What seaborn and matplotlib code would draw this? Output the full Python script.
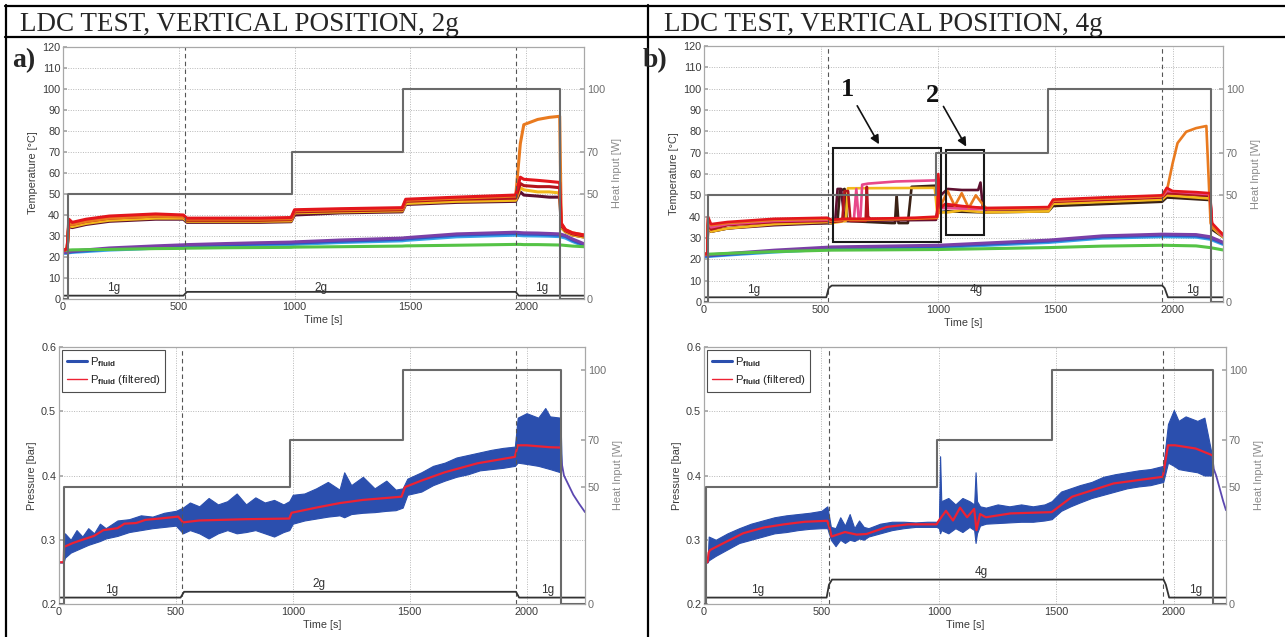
import matplotlib
matplotlib.use("Agg")
import matplotlib.pyplot as plt
from matplotlib.patches import Rectangle
from matplotlib.lines import Line2D
import seaborn as sns

# ------------------ panel a) 2g : temperatures ------------------ #
t_a = [0, 18, 25, 40, 100, 200, 300, 400, 520, 535, 700, 850, 985, 1000, 1200, 1465, 1480, 1700,
       1955, 1975, 1990, 2050, 2100, 2145, 2152, 2170, 2200, 2250]
red_a = [23, 24, 38, 36.5, 38, 39.5, 40, 40.5, 40, 38.5, 38.5, 38.5, 38.8, 42.5, 43, 43.5, 47.5, 48.5,
         49.5, 58, 57, 56.5, 56, 55.5, 36, 33, 31.5, 30.5]
orange_a = [23, 24, 36, 35.5, 37, 38.5, 39, 39.5, 39, 38, 38, 38, 38.2, 42, 42.5, 43, 47, 48,
            49, 74, 83, 85.5, 86.5, 87, 36, 33, 31.5, 30.5]
darkred_a = [23, 24, 36, 35.5, 37, 38.5, 39, 39.5, 39.5, 37.5, 37.5, 37.5, 37.8, 41.5, 42, 42.5, 46.5, 47.5,
             48, 55, 54, 53.5, 53.5, 53, 35, 32.5, 31, 30]
yellow_a = [23, 24, 35, 34.5, 36, 37.5, 38, 38.5, 38.5, 37, 37, 37, 37.2, 41, 41.5, 42, 45.5, 46.5,
            47, 53, 52, 51, 51, 50.5, 34, 32, 30.5, 29.5]
maroon_a = [23, 24, 34.5, 34, 35.5, 37, 37.5, 38, 38, 36.5, 36.5, 36.5, 36.8, 40, 41, 41.5, 45, 46,
            46.5, 51, 49.5, 49, 48.5, 48.5, 34, 32, 30.5, 29.5]
blue_a = [22, 22, 22.2, 22.5, 23, 23.8, 24.2, 24.7, 25.2, 25.3, 25.8, 26.2, 26.5, 26.6, 27.5, 28.4, 28.6, 30.4,
          31.2, 31, 30.9, 30.8, 30.6, 30.4, 30.2, 29.8, 28, 25.7]
purple_a = [22.3, 22.3, 22.5, 22.8, 23.4, 24.3, 24.8, 25.3, 25.8, 25.9, 26.4, 26.8, 27.1, 27.2, 28.1, 29, 29.2, 31,
            31.8, 31.6, 31.5, 31.4, 31.2, 31, 30.8, 30.2, 28.6, 26.3]
cyan_a = [21.8, 21.8, 22, 22.2, 22.6, 23.3, 23.7, 24.2, 24.6, 24.7, 25.2, 25.6, 25.9, 26, 26.9, 27.7, 27.9, 29.6,
          30.4, 30.2, 30.1, 30, 29.9, 29.7, 29.5, 29, 27.4, 25.2]
green_a = [23.2, 23.2, 23.3, 23.4, 23.5, 23.6, 23.8, 24, 24.1, 24.2, 24.4, 24.5, 24.6, 24.7, 24.9, 25.2, 25.3, 25.6,
           26, 26, 25.9, 25.9, 25.8, 25.7, 25.7, 25.5, 25.2, 24.9]

heat_t_a = [0, 20, 20, 990, 990, 1470, 1470, 2148, 2148, 2250]
heat_t_pa = [0, 21, 21, 988, 988, 1471, 1471, 2146, 2146, 2250]
heat_a = [0, 0, 50, 50, 70, 70, 100, 100, 0, 0]
g_t_a = [0, 520, 535, 1955, 1968, 2250]
g_temp_a = [1.6, 1.6, 3.4, 3.4, 1.6, 1.6]
g_pres_a = [0.21, 0.21, 0.219, 0.219, 0.21, 0.21]
dash_a = [527, 1956]
glabel_t_a = [220, 1116, 2066]
glabel_a = ['1g', '2g', '1g']

# ------------------ panel b) 4g : temperatures ------------------ #
t_red_b = [0, 14, 17, 30, 100, 300, 525, 545, 600, 700, 900, 995, 1000, 1010, 1030, 1100, 1200, 1470, 1490,
           1700, 1955, 1975, 2000, 2100, 2160, 2168, 2215]
T_red_b = [22.5, 22.5, 40, 36.5, 37.5, 39, 39.5, 38.5, 39, 39, 39.5, 40, 60, 44, 46, 45, 44, 44.5, 48,
           49, 50, 53.5, 52, 51.5, 51, 37, 31.5]
t_or_b = [0, 14, 17, 30, 100, 300, 525, 545, 600, 700, 900, 995, 1005, 1040, 1070, 1100, 1130, 1160, 1195,
          1210, 1470, 1490, 1700, 1955, 1979, 2000, 2021, 2058, 2100, 2144, 2162, 2170, 2215]
T_or_b = [22.5, 22.5, 39, 36, 37, 38.5, 39, 38, 38.5, 38.5, 39, 39.5, 44, 52, 45, 51, 44, 50, 45,
          43.5, 44, 47.5, 48.5, 49.5, 54, 65, 74.5, 79.8, 81.5, 82.5, 37, 35, 32]
t_ye_b = [0, 14, 17, 30, 100, 300, 525, 545, 605, 614, 985, 995, 1040, 1100, 1200, 1470, 1490, 1955, 1975,
          2160, 2168, 2215]
T_ye_b = [22.5, 22.5, 36, 33, 34.5, 36.5, 37.5, 37, 38, 53.3, 53.5, 42, 42, 43, 42, 42.5, 46, 48, 50,
          48.5, 35, 30.5]
t_pk_b = [0, 14, 17, 30, 100, 300, 525, 545, 640, 650, 660, 668, 675, 700, 820, 985, 998, 1010, 1040,
          1200, 1470, 1490, 1955, 1975, 2160, 2168, 2215]
T_pk_b = [22.5, 22.5, 38, 35, 36.5, 38, 38.5, 38, 39, 53, 39, 40, 55, 55.5, 56.5, 57, 58, 44, 44,
          43.5, 44, 47.5, 49.5, 52, 50.5, 36, 31]
t_br_b = [0, 14, 17, 30, 100, 300, 525, 545, 570, 580, 600, 610, 800, 815, 822, 830, 870, 886, 985,
          1000, 1040, 1200, 1470, 1490, 1955, 1975, 2160, 2168, 2215]
T_br_b = [22.5, 22.5, 36, 33, 34.5, 36.5, 37, 37, 38, 52, 53, 38, 37, 37, 50, 37, 37, 54, 54.5,
          42, 42.5, 42, 42.5, 45, 47, 49, 47.8, 34, 30.5]
t_ma_b = [0, 14, 17, 30, 100, 300, 525, 545, 560, 570, 585, 600, 990, 1010, 1040, 1100, 1170, 1180, 1190,
          1200, 1470, 1490, 1955, 1975, 2160, 2168, 2215]
T_ma_b = [22.5, 22.5, 35.5, 33, 34.5, 36, 37, 37, 38, 53, 53, 38, 38.5, 50, 53, 52.5, 52.5, 56, 44,
          43, 43.5, 46.5, 48.5, 50, 49, 35.5, 31]
t_dr_b = [0, 14, 17, 30, 100, 300, 525, 545, 590, 600, 615, 625, 690, 695, 700, 710, 990, 1000, 1040,
          1200, 1470, 1490, 1955, 1975, 2160, 2168, 2215]
T_dr_b = [22.5, 22.5, 37, 34, 36, 37.5, 38, 37.5, 38, 52, 52, 38, 38, 54, 40, 39, 39, 46, 45,
          44, 44, 47, 49, 51, 50, 36, 31]
t_cold_b = [0, 15, 100, 300, 545, 1000, 1470, 1700, 1955, 2100, 2160, 2215]
blue_b = [21.5, 21.6, 22.3, 23.8, 25.3, 26, 28.5, 30.5, 31.3, 31, 30, 27.5]
purple_b = [21.9, 22, 22.7, 24.3, 25.8, 26.6, 29, 31, 31.8, 31.6, 30.6, 28]
cyan_b = [21.2, 21.3, 22, 23.4, 24.8, 25.5, 27.9, 29.9, 30.6, 30.4, 29.4, 27]
green_b = [22.3, 22.4, 22.8, 23.6, 24.3, 24.6, 25.5, 26.2, 26.6, 26.3, 25.5, 24.4]

heat_t_b = [0, 16, 16, 990, 990, 1470, 1470, 2162, 2162, 2215]
heat_t_pb = [0, 9, 9, 993, 993, 1480, 1480, 2166, 2166, 2222]
heat_b = [0, 0, 50, 50, 70, 70, 100, 100, 0, 0]
g_t_b = [0, 522, 532, 545, 1956, 1966, 1980, 2222]
g_temp_b = [2.2, 2.2, 6.5, 7.7, 7.7, 6.5, 2.2, 2.2]
g_pres_b = [0.21, 0.21, 0.23, 0.238, 0.238, 0.23, 0.21, 0.21]
dash_b = [530, 1953]
glabel_t_b = [213, 1164, 2085]
glabel_b = ['1g', '4g', '1g']

# zones marked in panel b
zone_t = [550, 1034]
zone_w = [461, 163]
zone_T = [28, 31.4]
zone_h = [44.3, 39.9]
zone_tag = ['1', '2']
tag_xy = [(612, 99.4), (976, 96.8)]
arrow_from = [(648, 93.1), (1016, 92.8)]
arrow_to = [(753, 72.8), (1125, 71.7)]

# ------------------ pressures ------------------ #
pe_t_a = [0, 20, 25, 50, 75, 100, 125, 150, 175, 200, 250, 300, 350, 400, 450, 500, 530, 560, 600, 640,
          680, 720, 760, 800, 840, 880, 920, 960, 985, 1000, 1050, 1100, 1150, 1200, 1220, 1250, 1300, 1350,
          1400, 1440, 1470, 1490, 1550, 1600, 1650, 1700, 1750, 1800, 1850, 1900, 1950, 1962, 2000, 2050,
          2080, 2100, 2145, 2150]
up_a = [0.265, 0.265, 0.31, 0.30, 0.315, 0.305, 0.318, 0.31, 0.325, 0.318, 0.33, 0.332, 0.338, 0.336, 0.342,
        0.345, 0.35, 0.358, 0.352, 0.365, 0.355, 0.36, 0.372, 0.355, 0.366, 0.358, 0.362, 0.355, 0.36, 0.37,
        0.372, 0.38, 0.39, 0.378, 0.405, 0.385, 0.398, 0.38, 0.392, 0.378, 0.38, 0.395, 0.405, 0.415, 0.42,
        0.428, 0.432, 0.436, 0.44, 0.443, 0.445, 0.49, 0.497, 0.49, 0.505, 0.492, 0.49, 0.42]
lo_a = [0.265, 0.265, 0.272, 0.28, 0.284, 0.288, 0.292, 0.295, 0.298, 0.302, 0.306, 0.312, 0.315, 0.318, 0.32,
        0.322, 0.31, 0.315, 0.31, 0.302, 0.31, 0.315, 0.31, 0.312, 0.315, 0.31, 0.305, 0.312, 0.315, 0.325,
        0.33, 0.333, 0.336, 0.338, 0.335, 0.34, 0.342, 0.343, 0.345, 0.346, 0.35, 0.37, 0.375, 0.385, 0.392,
        0.398, 0.402, 0.408, 0.41, 0.412, 0.415, 0.42, 0.418, 0.415, 0.412, 0.41, 0.405, 0.41]
pf_t_a = [0, 20, 22, 60, 100, 150, 190, 250, 280, 330, 370, 430, 510, 530, 600, 800, 985, 995, 1100, 1200,
          1300, 1465, 1480, 1550, 1650, 1790, 1950, 1962, 2000, 2100, 2145]
pf_a = [0.265, 0.265, 0.289, 0.295, 0.300, 0.306, 0.315, 0.318, 0.325, 0.326, 0.331, 0.333, 0.336, 0.327,
        0.330, 0.332, 0.333, 0.342, 0.350, 0.357, 0.362, 0.367, 0.382, 0.392, 0.405, 0.419, 0.429, 0.447,
        0.447, 0.444, 0.4435]
pd_t_a = [2145, 2150, 2160, 2180, 2200, 2225, 2250]
pd_a = [0.45, 0.42, 0.40, 0.385, 0.37, 0.356, 0.343]

pe_t_b = [0, 15, 20, 50, 100, 150, 200, 250, 300, 350, 400, 450, 500, 525, 540, 560, 580, 600, 620, 640,
          660, 680, 700, 750, 800, 850, 900, 950, 990, 1000, 1005, 1010, 1040, 1070, 1100, 1130, 1150, 1156,
          1162, 1175, 1200, 1250, 1300, 1350, 1400, 1450, 1480, 1520, 1560, 1600, 1650, 1700, 1750, 1800,
          1850, 1900, 1955, 1975, 2000, 2020, 2050, 2100, 2130, 2163]
up_b = [0.265, 0.265, 0.305, 0.30, 0.31, 0.318, 0.325, 0.33, 0.335, 0.338, 0.34, 0.342, 0.345, 0.352, 0.32,
        0.318, 0.335, 0.322, 0.34, 0.318, 0.33, 0.32, 0.318, 0.325, 0.328, 0.328, 0.327, 0.328, 0.328, 0.33,
        0.43, 0.36, 0.365, 0.355, 0.365, 0.36, 0.355, 0.405, 0.36, 0.352, 0.35, 0.355, 0.352, 0.355, 0.352,
        0.355, 0.36, 0.375, 0.38, 0.385, 0.39, 0.398, 0.402, 0.405, 0.408, 0.41, 0.415, 0.48, 0.502, 0.485,
        0.492, 0.485, 0.49, 0.43]
lo_b = [0.265, 0.265, 0.268, 0.275, 0.285, 0.295, 0.30, 0.305, 0.31, 0.312, 0.315, 0.317, 0.318, 0.318, 0.30,
        0.29, 0.30, 0.295, 0.30, 0.298, 0.302, 0.30, 0.305, 0.31, 0.315, 0.318, 0.32, 0.32, 0.32, 0.318,
        0.31, 0.315, 0.31, 0.318, 0.312, 0.32, 0.315, 0.295, 0.31, 0.322, 0.325, 0.326, 0.327, 0.328, 0.328,
        0.33, 0.332, 0.345, 0.352, 0.358, 0.365, 0.37, 0.375, 0.38, 0.383, 0.385, 0.39, 0.42, 0.415, 0.41,
        0.408, 0.405, 0.40, 0.40]
pf_t_b = [0, 15, 20, 26, 79, 166, 254, 341, 429, 525, 535, 543, 600, 650, 692, 779, 867, 990, 1000, 1030,
          1060, 1090, 1120, 1150, 1160, 1175, 1200, 1305, 1480, 1567, 1743, 1953, 1975, 2005, 2093, 2163]
pf_b = [0.265, 0.265, 0.28, 0.284, 0.294, 0.31, 0.319, 0.324, 0.328, 0.3295, 0.318, 0.305, 0.312, 0.308,
        0.309, 0.320, 0.324, 0.324, 0.33, 0.345, 0.33, 0.35, 0.335, 0.348, 0.315, 0.34, 0.335, 0.341, 0.343,
        0.367, 0.3876, 0.398, 0.447, 0.447, 0.442, 0.4316]
pd_t_b = [2163, 2170, 2180, 2195, 2210, 2222]
pd_b = [0.43, 0.41, 0.40, 0.38, 0.36, 0.346]

# ------------------ colours ------------------ #
C = dict(red='#e3161c', orange='#e97a1f', yellow='#f2b81c', darkred='#b3141c', maroon='#5e1030',
         brown='#3a2115', pink='#e8488a', blue='#2f56c6', purple='#7b3fa6', cyan='#38a6e8',
         green='#55c346', heat='#6a6a6a', grav='#333333', pblue='#2b4fae', pred='#ee2233')

sns.set_theme(style="white")
plt.rcParams['font.family'] = ['Liberation Sans', 'DejaVu Sans']
plt.rcParams['mathtext.fontset'] = 'custom'
plt.rcParams['mathtext.rm'] = 'Liberation Sans'
plt.rcParams['mathtext.bf'] = 'Liberation Sans:bold'

W, H = 1285, 637
fig = plt.figure(figsize=(W / 100, H / 100), dpi=100)


def box(l, r, t, b):
    return [l / W, 1 - b / H, (r - l) / W, (b - t) / H]


def line(ax, x, y, color, lw=1.0, **kw):
    sns.lineplot(x=x, y=y, ax=ax, color=color, lw=lw, estimator=None, sort=False, legend=False, **kw)


def frame(ax, xmax, ylim, yticks, ylabel, hmax):
    ax.set_xlim(0, xmax)
    ax.set_ylim(*ylim)
    ax.set_xticks([0, 500, 1000, 1500, 2000])
    ax.set_yticks(yticks)
    ax.grid(True, linestyle=(0, (1, 1.5)), color='#b8b8b8', lw=0.7)
    for sp in ax.spines.values():
        sp.set_color('#a8a8a8')
        sp.set_linewidth(0.9)
    ax.tick_params(direction='in', length=3, color='#a8a8a8', labelsize=7.8, labelcolor='#3a3a3a', pad=2)
    ax.set_xlabel('Time [s]', fontsize=7.8, color='#3a3a3a', labelpad=2)
    ax.set_ylabel(ylabel, fontsize=7.8, color='#3a3a3a', labelpad=3)
    tw = ax.twinx()
    tw.set_ylim(0, hmax)
    tw.set_yticks([0, 50, 70, 100])
    for sp in tw.spines.values():
        sp.set_visible(False)
    tw.tick_params(direction='in', length=3, color='#a8a8a8', labelsize=7.8, labelcolor='#6e6e6e', pad=2)
    tw.set_ylabel('Heat Input [W]', fontsize=7.8, color='#8a8a8a', labelpad=5)
    tw.grid(False)
    return tw


def marks(ax, dashes, g_t, g_v, lab_t, lab_y, labs):
    for d in dashes:
        ax.axvline(d, color='#555555', ls=(0, (4, 3)), lw=0.8)
    line(ax, g_t, g_v, C['grav'], lw=1.3)
    for tt, s in zip(lab_t, labs):
        ax.text(tt, lab_y, s, ha='center', va='bottom', fontsize=8.5, color='#333333')


# ---- a) temperatures
ax = fig.add_axes(box(63, 584, 47, 299))
for key, arr in [('cyan', cyan_a), ('blue', blue_a), ('purple', purple_a), ('green', green_a)]:
    line(ax, t_a, arr, C[key], lw=2.2)
for key, arr in [('maroon', maroon_a), ('yellow', yellow_a), ('darkred', darkred_a),
                 ('orange', orange_a), ('red', red_a)]:
    line(ax, t_a, arr, C[key], lw=2.2)
marks(ax, dash_a, g_t_a, g_temp_a, glabel_t_a, 2.3, glabel_a)
tw = frame(ax, 2250, (0, 120), range(0, 121, 10), 'Temperature [°C]', 120)
line(tw, heat_t_a, heat_a, C['heat'], lw=1.5)

# ---- b) temperatures
ax = fig.add_axes(box(704, 1223, 46, 302))
for key, arr in [('cyan', cyan_b), ('blue', blue_b), ('purple', purple_b), ('green', green_b)]:
    line(ax, t_cold_b, arr, C[key], lw=2.2)
for key, tt, arr in [('brown', t_br_b, T_br_b), ('maroon', t_ma_b, T_ma_b), ('yellow', t_ye_b, T_ye_b),
                     ('darkred', t_dr_b, T_dr_b), ('pink', t_pk_b, T_pk_b), ('orange', t_or_b, T_or_b),
                     ('red', t_red_b, T_red_b)]:
    line(ax, tt, arr, C[key], lw=1.9)
marks(ax, dash_b, g_t_b, g_temp_b, glabel_t_b, 2.6, glabel_b)
for x0, w, y0, h in zip(zone_t, zone_w, zone_T, zone_h):
    ax.add_patch(Rectangle((x0, y0), w, h, fill=False, ec='#1a1a1a', lw=1.5, zorder=5))
for s, xy, a0, a1 in zip(zone_tag, tag_xy, arrow_from, arrow_to):
    ax.text(xy[0], xy[1], s, ha='center', va='center', fontsize=19, fontweight='bold',
            family='Liberation Serif', color='#111111')
    ax.annotate('', xy=a1, xytext=a0,
                arrowprops=dict(arrowstyle='-|>', color='#111111', lw=1.2, mutation_scale=13))
tw = frame(ax, 2215, (0, 120), range(0, 121, 10), 'Temperature [°C]', 120)
line(tw, heat_t_b, heat_b, C['heat'], lw=1.5)

# ---- pressures
for rect, xmax, pe_t, lo, up, pf_t, pf, pd_t, pd, ht, hv, dashes, g_t, g_v, lt, labs in [
        (box(59, 585, 347, 604), 2250, pe_t_a, lo_a, up_a, pf_t_a, pf_a, pd_t_a, pd_a, heat_t_pa, heat_a,
         dash_a, g_t_a, g_pres_a, [225, 1113, 2089], glabel_a),
        (box(704, 1226, 347, 604), 2222, pe_t_b, lo_b, up_b, pf_t_b, pf_b, pd_t_b, pd_b, heat_t_pb, heat_b,
         dash_b, g_t_b, g_pres_b, [228, 1182, 2093], glabel_b)]:
    ax = fig.add_axes(rect)
    ax.fill_between(pe_t, lo, up, color=C['pblue'], lw=0.8, edgecolor=C['pblue'])
    line(ax, pd_t, pd, '#5b47b0', lw=1.3)
    line(ax, pf_t, pf, C['pred'], lw=1.6)
    marks(ax, dashes, g_t, g_v, [], 0, [])
    # gravity labels sit just above their level line
    for tt, s, gy in zip(lt, labs, [g_v[0], max(g_v), g_v[-1]]):
        ax.text(tt, gy + 0.003, s, ha='center', va='bottom', fontsize=8.5, color='#333333')
    tw = frame(ax, xmax, (0.2, 0.6), [0.2, 0.3, 0.4, 0.5, 0.6], 'Pressure [bar]', 109.6)
    line(tw, ht, hv, C['heat'], lw=1.5)
    handles = [Line2D([], [], color=C['pblue'], lw=2.2), Line2D([], [], color=C['pred'], lw=1.0)]
    leg = ax.legend(handles, [r'P$_{\mathbf{fluid}}$', r'P$_{\mathbf{fluid}}$ (filtered)'],
                    loc='upper left', fontsize=8.2, frameon=True, fancybox=False, borderaxespad=0.3,
                    handlelength=1.8, handletextpad=0.2, labelspacing=0.4, borderpad=0.4)
    leg.get_frame().set_edgecolor('#222222')
    leg.get_frame().set_linewidth(0.8)

# ------------------ table frame and headings ------------------ #
for xs, ys in [([5 / W, 1], [1 - 6 / H, 1 - 6 / H]),
               ([5 / W, 1], [1 - 37 / H, 1 - 37 / H]),
               ([6 / W, 6 / W], [1 - 5 / H, 0]),
               ([648 / W, 648 / W], [1 - 5 / H, 0])]:
    fig.add_artist(Line2D(xs, ys, transform=fig.transFigure, color='black', lw=1.6))

fig.text(20 / W, 1 - 31 / H, 'LDC TEST, VERTICAL POSITION, 2g', fontsize=19.5, family='Liberation Serif',
         va='baseline', ha='left')
fig.text(664 / W, 1 - 31 / H, 'LDC TEST, VERTICAL POSITION, 4g', fontsize=19.5, family='Liberation Serif',
         va='baseline', ha='left')
fig.text(12 / W, 1 - 67 / H, 'a)', fontsize=20, fontweight='bold', family='Liberation Serif', va='baseline')
fig.text(643 / W, 1 - 67 / H, 'b)', fontsize=20, fontweight='bold', family='Liberation Serif', va='baseline')

fig.savefig('out.png', dpi=100)
